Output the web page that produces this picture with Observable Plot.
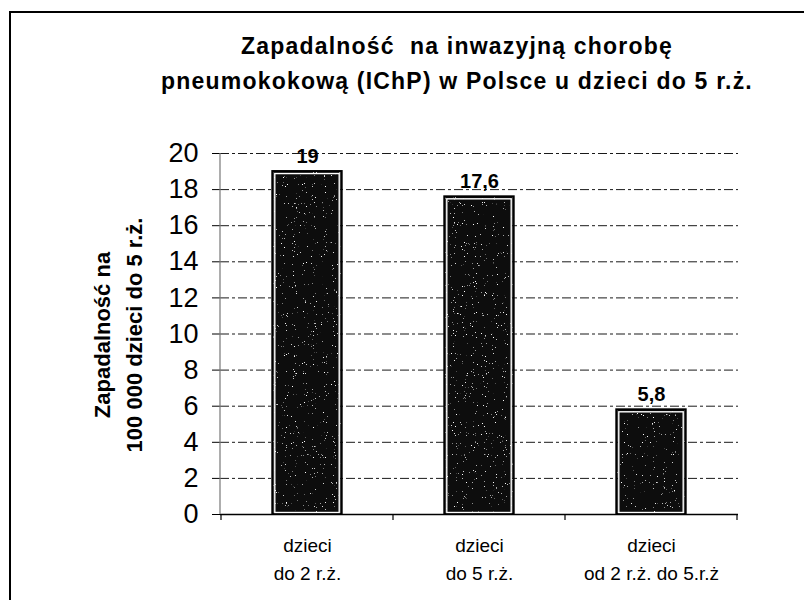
<!DOCTYPE html>
<html>
<head>
<meta charset="utf-8">
<script src="https://cdn.jsdelivr.net/npm/d3@7"></script>
<script src="https://cdn.jsdelivr.net/npm/@observablehq/plot@0.6"></script>
<style>
  html, body { margin: 0; padding: 0; background: #fff; }
  #chart { width: 804px; height: 600px; overflow: hidden; }
</style>
</head>
<body>
<div id="chart"></div>
<script>
// ---- data ----
const categories = ["dzieci\ndo 2 r.ż.", "dzieci\ndo 5 r.ż.", "dzieci\nod 2 r.ż. do 5.r.ż"];
const values = [19, 17.6, 5.8];
const valueLabels = ["19", "17,6", "5,8"];
const yTicks = [0, 2, 4, 6, 8, 10, 12, 14, 16, 18, 20];
const titleLines = ["Zapadalność  na inwazyjną chorobę", "pneumokokową (IChP) w Polsce u dzieci do 5 r.ż."];
const yLabelLines = ["Zapadalność na", "100 000 dzieci do 5 r.ż."];

const data = categories.map((c, i) => ({cat: c, value: values[i], label: valueLabels[i]}));

const font = "'Liberation Sans', Arial, Helvetica, sans-serif";
const W = 804, H = 600;
const mL = 220, mR = 66, mT = 153, mB = 86;
const barInset = 51.3;

const chart = Plot.plot({
  width: W, height: H,
  marginLeft: mL, marginRight: mR, marginTop: mT, marginBottom: mB,
  style: {fontFamily: font, background: "#fff", color: "#000", overflow: "visible"},
  x: {domain: categories, padding: 0, label: null},
  y: {domain: [0, 20], label: null},
  marks: [
    Plot.gridY(yTicks.slice(1), {stroke: "#000", strokeOpacity: 0.9, strokeWidth: 1, strokeDasharray: "9,3,3,3"}),
    Plot.barY(data, {x: "cat", y: "value", fill: "#0b0b0b", insetLeft: barInset + 1, insetRight: barInset + 1}),
    Plot.barY(data, {x: "cat", y: "value", fill: "none", stroke: "#000", strokeWidth: 2, insetLeft: barInset, insetRight: barInset}),
    Plot.barY(data, {x: "cat", y: "value", fill: "none", stroke: "#fff", strokeWidth: 1.4, insetLeft: barInset + 2.5, insetRight: barInset + 2.5, insetTop: 2.5, insetBottom: 1.5}),
    Plot.ruleY([0], {stroke: "#000", strokeWidth: 1.5}),
    Plot.axisY(yTicks, {tickSize: 8, tickPadding: 14, fontSize: 27, label: null, stroke: "#000"}),
    Plot.axisX({tickSize: 0, tickPadding: 18, fontSize: 19, lineHeight: 1.45, label: null}),
    Plot.text(data, {x: "cat", y: "value", text: "label", dy: -9, lineAnchor: "bottom", fontWeight: "bold", fontSize: 20})
  ]
});

document.getElementById("chart").appendChild(chart);

// ---- decorations ----
const svg = d3.select(chart);
const xs = chart.scale("x");
const ys = chart.scale("y");
const y0 = ys.apply(0), yTop = ys.apply(20);

// speckle texture on the bar fill
const defs = svg.insert("defs", ":first-child");
const f = defs.append("filter").attr("id", "speck").attr("x", 0).attr("y", 0).attr("width", 1).attr("height", 1);
f.append("feTurbulence").attr("type", "fractalNoise").attr("baseFrequency", 0.9).attr("numOctaves", 2).attr("seed", 7).attr("result", "n");
f.append("feColorMatrix").attr("in", "n").attr("type", "matrix")
  .attr("values", "0 0 0 0 1  0 0 0 0 1  0 0 0 0 1  12 0 0 0 -8.6").attr("result", "dots");
f.append("feComposite").attr("in", "dots").attr("in2", "SourceGraphic").attr("operator", "in").attr("result", "d2");
const m = f.append("feMerge");
m.append("feMergeNode").attr("in", "SourceGraphic");
m.append("feMergeNode").attr("in", "d2");
svg.selectAll('g[aria-label="bar"]').filter((d, i) => i === 0).attr("filter", "url(#speck)");

// y axis line
svg.append("line").attr("x1", mL).attr("x2", mL).attr("y1", yTop).attr("y2", y0)
  .attr("stroke", "#777").attr("stroke-width", 1.2);

// category boundary ticks
const bounds = [xs.apply(categories[0])].concat(categories.map(c => xs.apply(c) + xs.bandwidth));
svg.append("g").selectAll("line").data(bounds).join("line")
  .attr("x1", d => d).attr("x2", d => d).attr("y1", y0).attr("y2", y0 + 6)
  .attr("stroke", "#000").attr("stroke-width", 1.2);

// outer frame (top & left edges visible)
svg.append("path").attr("d", `M${W + 5},12 H10 V${H + 5}`).attr("fill", "none").attr("stroke", "#000").attr("stroke-width", 2);

// title
const t = svg.append("text").attr("text-anchor", "middle").attr("font-family", font)
  .attr("font-weight", "bold").attr("font-size", 23).attr("letter-spacing", 1.2).attr("fill", "#000");
titleLines.forEach((s, i) => t.append("tspan").attr("x", 457).attr("y", 54 + i * 35).text(s));

// y label
const yl = svg.append("text").attr("text-anchor", "middle").attr("font-family", font)
  .attr("font-weight", "bold").attr("font-size", 22).attr("fill", "#000")
  .attr("transform", `rotate(-90)`);
yLabelLines.forEach((s, i) => yl.append("tspan").attr("x", -335).attr("y", 110 + i * 32).text(s));
</script>
</body>
</html>
